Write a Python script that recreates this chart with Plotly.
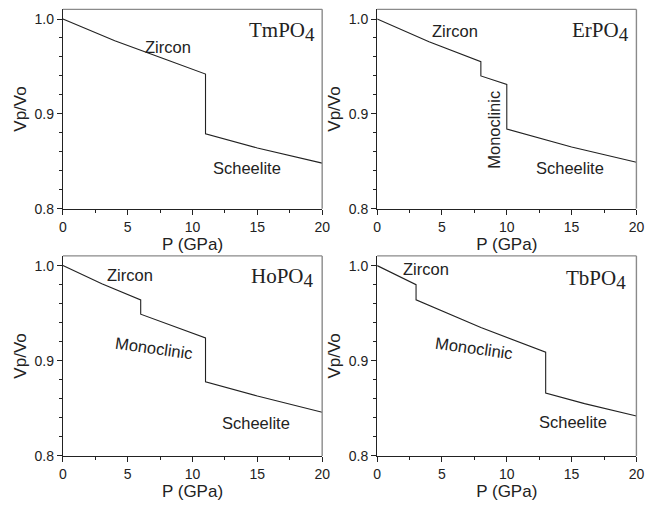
import plotly.graph_objects as go

# Relative volume Vp/Vo versus pressure for four rare-earth phosphates.
# Each compound: pressure points (GPa) and Vp/Vo values per phase.
tm_zircon_p = [0, 4, 8, 11]
tm_zircon_v = [1.000, 0.977, 0.957, 0.942]
tm_scheelite_p = [11, 15, 20]
tm_scheelite_v = [0.879, 0.864, 0.848]

er_zircon_p = [0, 4, 8]
er_zircon_v = [1.000, 0.976, 0.955]
er_monoclinic_p = [8, 10]
er_monoclinic_v = [0.940, 0.931]
er_scheelite_p = [10, 15, 20]
er_scheelite_v = [0.884, 0.865, 0.849]

ho_zircon_p = [0, 3, 6]
ho_zircon_v = [1.000, 0.981, 0.964]
ho_monoclinic_p = [6, 11]
ho_monoclinic_v = [0.949, 0.924]
ho_scheelite_p = [11, 15, 20]
ho_scheelite_v = [0.878, 0.863, 0.846]

tb_zircon_p = [0, 3]
tb_zircon_v = [1.000, 0.980]
tb_monoclinic_p = [3, 8, 13]
tb_monoclinic_v = [0.964, 0.935, 0.909]
tb_scheelite_p = [13, 16, 20]
tb_scheelite_v = [0.866, 0.855, 0.842]

SUB4 = "<sub><span style='font-size:19px'>4</span></sub>"
compounds = ["TmPO" + SUB4, "ErPO" + SUB4, "HoPO" + SUB4, "TbPO" + SUB4]
x_ticks = [0, 5, 10, 15, 20]
y_ticks = [0.8, 0.9, 1.0]
y_tick_text = ["0.8", "0.9", "1.0"]

curves = [
    (tm_zircon_p + tm_scheelite_p, tm_zircon_v + tm_scheelite_v),
    (er_zircon_p + er_monoclinic_p + er_scheelite_p,
     er_zircon_v + er_monoclinic_v + er_scheelite_v),
    (ho_zircon_p + ho_monoclinic_p + ho_scheelite_p,
     ho_zircon_v + ho_monoclinic_v + ho_scheelite_v),
    (tb_zircon_p + tb_monoclinic_p + tb_scheelite_p,
     tb_zircon_v + tb_monoclinic_v + tb_scheelite_v),
]

# Phase labels per panel: (text, x, y, angle)
phase_labels = [
    [("Zircon", 8.1, 0.970, 0), ("Scheelite", 14.2, 0.843, 0)],
    [("Zircon", 6.0, 0.987, 0), ("Monoclinic", 9.0, 0.883, -90),
     ("Scheelite", 14.9, 0.843, 0)],
    [("Zircon", 5.2, 0.990, 0), ("Monoclinic", 7.0, 0.9135, 8),
     ("Scheelite", 14.9, 0.835, 0)],
    [("Zircon", 3.8, 0.9966, 0), ("Monoclinic", 7.5, 0.913, 8),
     ("Scheelite", 15.1, 0.8356, 0)],
]
name_pos = [(16.9, 0.987), (17.2, 0.987), (16.95, 0.988), (16.9, 0.985)]

W, H = 667, 506
x_domains = [(60 / W, 324 / W), (380 / W, 644 / W)]
y_domains = [((H - 212) / H, (H - 9.5) / H), ((H - 463.3) / H, (H - 260) / H)]

INK = "#222222"
FRAME = "#8a8a8a"
SANS = "Liberation Sans, Arial, sans-serif"
SERIF = "Liberation Serif, Times New Roman, serif"

fig = go.Figure()
layout = {}
for i in range(4):
    row, col = divmod(i, 2)
    suffix = "" if i == 0 else str(i + 1)
    xa, ya = "x" + suffix, "y" + suffix
    px, pv = curves[i]
    fig.add_trace(go.Scatter(x=px, y=pv, mode="lines", xaxis=xa, yaxis=ya,
                             line=dict(color=INK, width=1.1), showlegend=False,
                             hoverinfo="skip"))
    common = dict(ticks="outside", ticklen=5, tickwidth=1, tickcolor=INK,
                  showline=True, linecolor=INK, linewidth=1.2, mirror=False,
                  showgrid=False, zeroline=False,
                  tickfont=dict(family=SANS, size=14, color=INK))
    layout["xaxis" + suffix] = dict(
        common, domain=list(x_domains[col]), anchor=ya, range=[0, 20],
        tickvals=x_ticks, ticktext=[str(t) for t in x_ticks],
        minor=dict(tickvals=[2.5, 7.5, 12.5, 17.5], ticks="outside", ticklen=3,
                   tickcolor=INK),
        title=dict(text="P (GPa)", standoff=0,
                   font=dict(family=SANS, size=17, color=INK)))
    layout["yaxis" + suffix] = dict(
        common, domain=list(y_domains[row]), anchor=xa, range=[0.8, 1.0102],
        tickvals=y_ticks, ticktext=y_tick_text,
        minor=dict(tickvals=[0.82, 0.84, 0.86, 0.88, 0.92, 0.94, 0.96, 0.98],
                   ticks="outside", ticklen=3, tickcolor=INK),
        title=dict(text="Vp/Vo", standoff=3,
                   font=dict(family=SANS, size=17, color=INK)))
    # lighter top and right frame edges
    fig.add_shape(type="line", xref=xa + " domain", yref=ya + " domain",
                  x0=0, x1=1, y0=1, y1=1, line=dict(color=FRAME, width=1.4))
    fig.add_shape(type="line", xref=xa + " domain", yref=ya + " domain",
                  x0=1, x1=1, y0=0, y1=1, line=dict(color=FRAME, width=1.4))
    for text, lx, ly, ang in phase_labels[i]:
        fig.add_annotation(x=lx, y=ly, xref=xa, yref=ya, text=text,
                           showarrow=False, textangle=ang,
                           font=dict(family=SANS, size=16.5, color=INK))
    nx, ny = name_pos[i]
    fig.add_annotation(x=nx, y=ny, xref=xa, yref=ya, text=compounds[i],
                       showarrow=False,
                       font=dict(family=SERIF, size=21, color=INK))

fig.update_layout(width=W, height=H, margin=dict(l=0, r=0, t=0, b=0),
                  paper_bgcolor="white", plot_bgcolor="white", **layout)
fig.write_html("out.html")
